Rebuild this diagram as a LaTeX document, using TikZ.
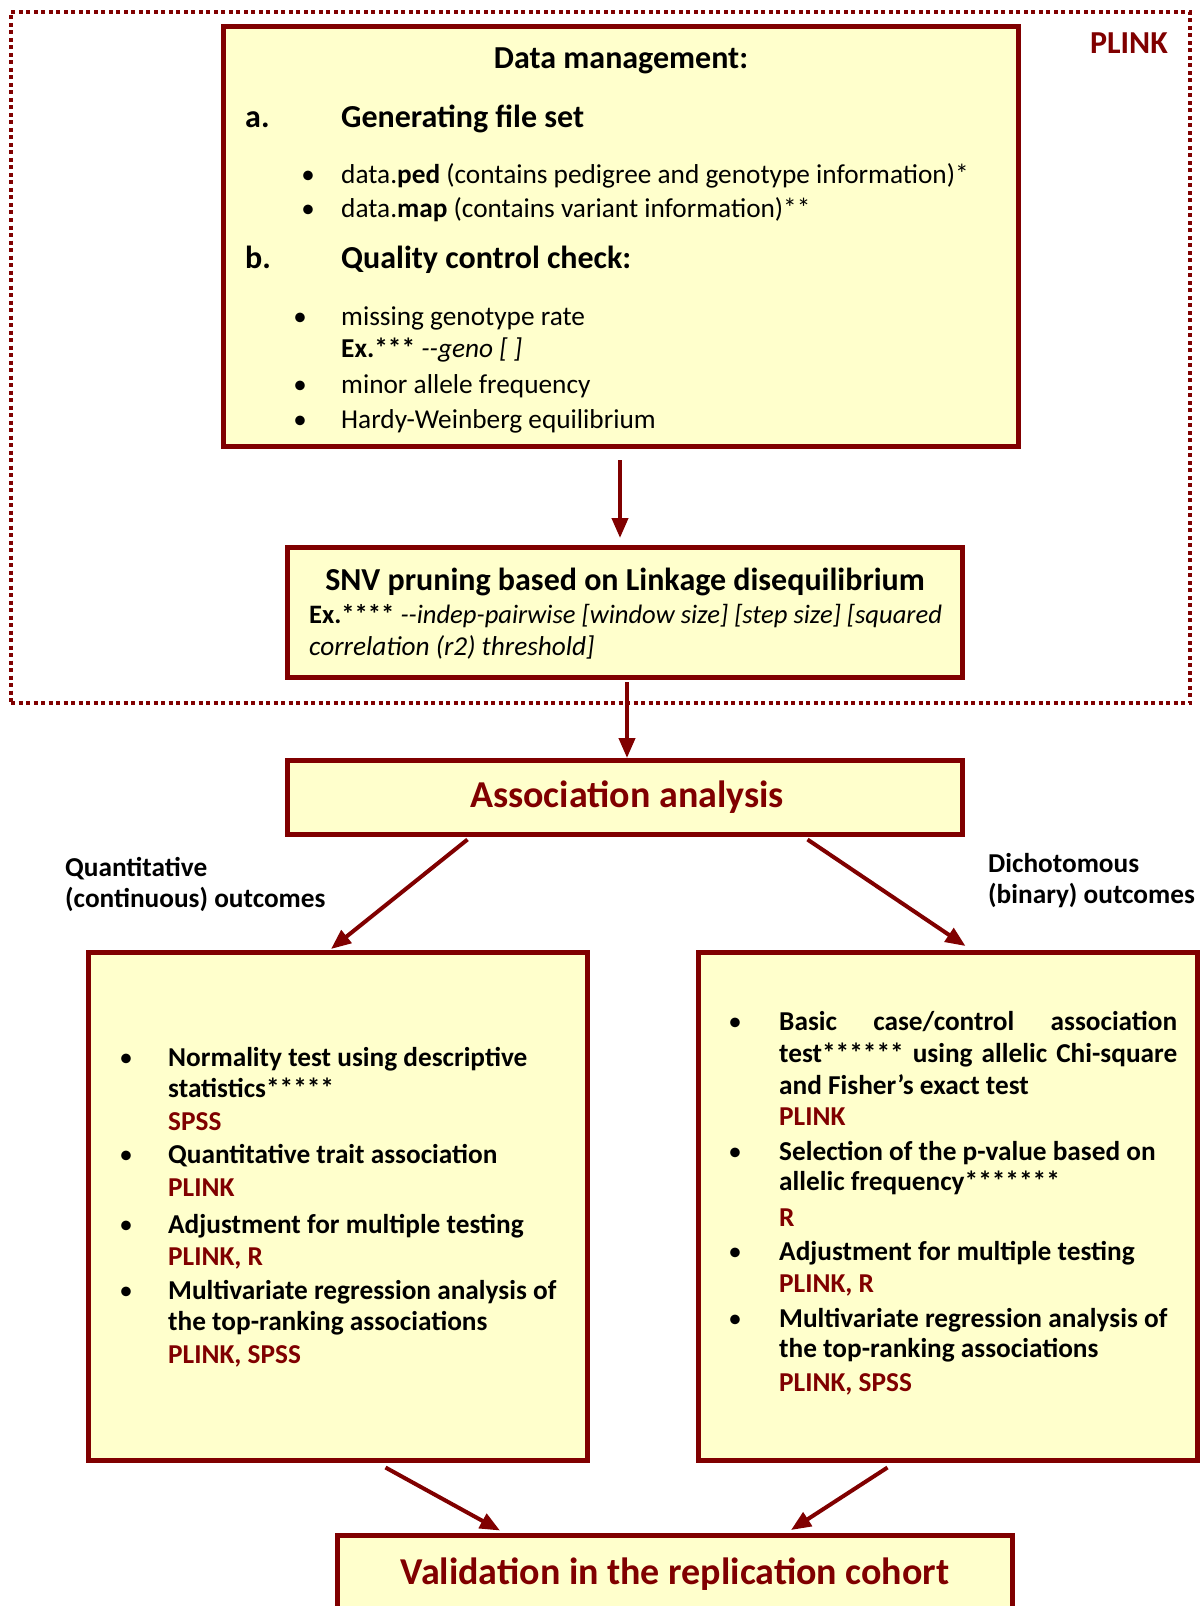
\documentclass[tikz,border=0pt]{standalone}
\usepackage{fontspec}
\setmainfont{Carlito}
\usetikzlibrary{arrows.meta,calc}
\definecolor{maroon}{RGB}{128,0,0}
\definecolor{paleyel}{RGB}{255,255,204}
\begin{document}
\begin{tikzpicture}[x=1pt,y=-1pt,
  box/.style={draw=maroon, line width=5pt, fill=paleyel, inner sep=0pt},
  frame/.style={draw=maroon, line width=4pt, dash pattern=on 4pt off 3.5pt, inner sep=0pt},
  arr/.style={draw=maroon, line width=4pt, -{Triangle[length=20pt,width=16pt]}},
  t/.style={anchor=base west, inner sep=0pt, font=\fontsize{27.3}{32}\selectfont},
  tb/.style={t, font=\fontsize{27.3}{32}\selectfont\bfseries},
  th/.style={t, font=\fontsize{32}{36}\selectfont\bfseries},
  tool/.style={tb, text=maroon},
  bul/.style={anchor=base, inner sep=0pt, font=\fontsize{27}{32}\selectfont},
  big/.style={anchor=base, inner sep=0pt, font=\fontsize{38}{44}\selectfont\bfseries, text=maroon}
]
\clip (0,0) rectangle (1203,1606);
\fill[white] (0,0) rectangle (1203,1606);

% frame
\node[frame, minimum width=1179, minimum height=691] (frame) at (600.5,357.5) {};
\node[th, anchor=base east, text=maroon] (plink) at (1168,53) {PLINK};

% boxes
\node[box, minimum width=795, minimum height=420] (dm) at (621,236.5) {};
\node[box, minimum width=675, minimum height=130] (snv) at (625,612.5) {};
\node[box, minimum width=675, minimum height=74] (assoc) at (625,797.5) {};
\node[box, minimum width=499, minimum height=508] (lbox) at (338,1206.5) {};
\node[box, minimum width=499, minimum height=508] (rbox) at (948,1206.5) {};
\node[box, minimum width=675, minimum height=105] (valid) at (675,1588) {};

% data management text
\node[th, anchor=base] (dmt) at (621,68) {Data management:};
\node[th] (la) at (245,127) {a.};
\node[th] (ga) at (341,127) {Generating file set};
\node[bul] (b1) at (308,183) {\textbullet};
\node[t] (d1) at (341,183) {data.\textbf{ped} (contains pedigree and genotype information)*};
\node[bul] (b2) at (308,217) {\textbullet};
\node[t] (d2) at (341,217) {data.\textbf{map} (contains variant information)**};
\node[th] (lb) at (245,268) {b.};
\node[th] (qc) at (341,268) {Quality control check:};
\node[bul] (b3) at (300,325) {\textbullet};
\node[t] (q1) at (341,325) {missing genotype rate};
\node[t] (q1b) at (341,357) {\textbf{Ex.***} \textit{-{}-geno [ ]}};
\node[bul] (b4) at (300,393) {\textbullet};
\node[t] (q2) at (341,393) {minor allele frequency};
\node[bul] (b5) at (300,428) {\textbullet};
\node[t] (q3) at (341,428) {Hardy-Weinberg equilibrium};

% SNV text
\node[th, anchor=base] (snvt) at (625,590) {SNV pruning based on Linkage disequilibrium};
\node[t, font=\fontsize{26.6}{32}\selectfont] (snv1) at (309,623) {\textbf{Ex.****} \textit{-{}-indep-pairwise [window size] [step size] [squared}};
\node[t] (snv2) at (309,655) {\textit{correlation (r2) threshold]}};

% association
\node[big] (assoct) at (627,807) {Association analysis};
\node[tb] (qa) at (65,876) {Quantitative};
\node[tb] (qb) at (65,907) {(continuous) outcomes};
\node[tb] (da) at (988,872) {Dichotomous};
\node[tb] (db) at (988,903) {(binary) outcomes};

% left box
\node[bul] (lb1) at (126,1066) {\textbullet};
\node[tb] (l1) at (168,1066) {Normality test using descriptive};
\node[tb] (l2) at (168,1097) {statistics*****};
\node[tool] (l3) at (168,1130) {SPSS};
\node[bul] (lb2) at (126,1163) {\textbullet};
\node[tb] (l4) at (168,1163) {Quantitative trait association};
\node[tool] (l5) at (168,1196) {PLINK};
\node[bul] (lb3) at (126,1233) {\textbullet};
\node[tb] (l6) at (168,1233) {Adjustment for multiple testing};
\node[tool] (l7) at (168,1265) {PLINK, R};
\node[bul] (lb4) at (126,1299) {\textbullet};
\node[tb] (l8) at (168,1299) {Multivariate regression analysis of};
\node[tb] (l9) at (168,1330) {the top-ranking associations};
\node[tool] (l10) at (168,1363) {PLINK, SPSS};

% right box
\node[bul] (rb1) at (735,1030) {\textbullet};
\node[tb] (r1) at (779,1030) {\makebox[398pt][s]{Basic case/control association}};
\node[tb] (r2) at (779,1062) {\makebox[398pt][s]{test****** using allelic Chi-square}};
\node[tb] (r3) at (779,1094) {and Fisher’s exact test};
\node[tool] (r4) at (779,1125) {PLINK};
\node[bul] (rb2) at (735,1160) {\textbullet};
\node[tb] (r5) at (779,1160) {Selection of the p-value based on};
\node[tb] (r6) at (779,1190) {allelic frequency*******};
\node[tool] (r7) at (779,1226) {R};
\node[bul] (rb3) at (735,1260) {\textbullet};
\node[tb] (r8) at (779,1260) {Adjustment for multiple testing};
\node[tool] (r9) at (779,1292) {PLINK, R};
\node[bul] (rb4) at (735,1327) {\textbullet};
\node[tb] (r10) at (779,1327) {Multivariate regression analysis of};
\node[tb] (r11) at (779,1357) {the top-ranking associations};
\node[tool] (r12) at (779,1391) {PLINK, SPSS};

% validation
\node[big] (validt) at (675,1584) {Validation in the replication cohort};

% arrows
\draw[arr] ([xshift=-1pt,yshift=-11pt]dm.south) -- ([xshift=-5pt,yshift=7pt]snv.north);
\draw[arr] ([xshift=2pt,yshift=-2pt]snv.south) -- ([xshift=2pt,yshift=0pt]assoc.north);
\draw[arr] ([xshift=182.5pt,yshift=-2.5pt]assoc.south west) -- ([xshift=245pt,yshift=1pt]lbox.north west);
\draw[arr] ([xshift=522.5pt,yshift=-2.5pt]assoc.south west) -- ([xshift=269.5pt,yshift=4pt]rbox.north west);
\draw[arr] ([xshift=299.5pt,yshift=-4.5pt]lbox.south west) -- ([xshift=165pt,yshift=2.5pt]valid.north west);
\draw[arr] ([xshift=191.5pt,yshift=-4.5pt]rbox.south west) -- ([xshift=456pt,yshift=3pt]valid.north west);
\end{tikzpicture}
\end{document}
